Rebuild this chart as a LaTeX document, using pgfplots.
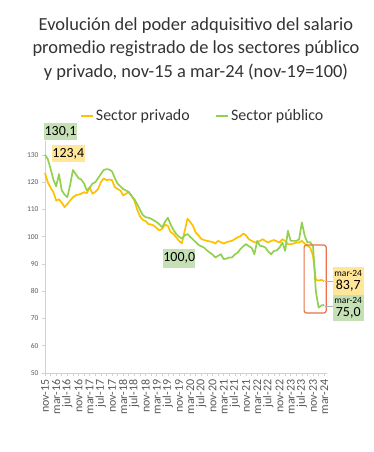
\documentclass[border=0pt]{standalone}
\usepackage{fontspec}
\setmainfont{Carlito}
\usepackage{pgfplots}
\usepackage{pgfplotstable}
\pgfplotsset{compat=1.18}
\definecolor{priv}{HTML}{FFC000}
\definecolor{pub}{HTML}{92D050}
\definecolor{privbox}{HTML}{FFE699}
\definecolor{pubbox}{HTML}{C5E0B4}
\definecolor{redbox}{HTML}{E8704A}
\definecolor{axgray}{HTML}{D0D0D0}
\definecolor{txtgray}{HTML}{595959}

\pgfplotstableread{
m priv pub
0 123.4 130.1
1 120.0 128.5
2 118.0 125.0
3 116.4 121.0
4 113.3 118.5
5 113.7 123.0
6 112.5 117.0
7 110.9 115.5
8 112.0 114.5
9 113.3 119.0
10 114.5 124.5
11 115.2 123.0
12 115.5 121.5
13 115.8 121.0
14 116.4 119.5
15 116.0 117.0
16 118.2 118.0
17 115.8 119.5
18 116.5 120.0
19 117.5 121.5
20 120.0 123.0
21 121.4 124.5
22 120.8 124.8
23 121.0 124.7
24 120.8 124.0
25 118.2 121.5
26 117.5 119.5
27 117.0 118.5
28 115.2 117.5
29 115.8 117.0
30 116.4 116.4
31 115.0 115.0
32 113.3 113.8
33 110.0 112.0
34 107.5 110.0
35 106.2 108.0
36 105.8 107.2
37 104.7 107.0
38 104.5 106.6
39 104.1 106.0
40 103.2 105.4
41 102.3 104.5
42 103.0 103.5
43 104.5 105.5
44 104.0 107.0
45 101.7 104.5
46 101.0 102.5
47 99.8 101.0
48 98.5 100.0
49 97.6 99.3
50 102.0 100.5
51 106.6 101.0
52 105.5 100.0
53 104.0 99.0
54 101.5 98.0
55 100.5 97.0
56 99.2 96.5
57 98.8 96.0
58 98.5 95.0
59 98.3 94.2
60 98.1 93.5
61 97.5 92.4
62 98.5 93.0
63 98.0 93.6
64 97.5 91.8
65 98.0 92.0
66 98.3 92.4
67 98.5 92.4
68 99.2 93.5
69 99.8 94.2
70 100.2 95.5
71 101.2 96.5
72 100.5 97.3
73 99.1 96.5
74 98.5 96.0
75 98.0 93.6
76 97.9 98.5
77 98.5 96.7
78 99.1 96.5
79 98.4 96.0
80 97.9 94.5
81 98.5 93.6
82 98.8 94.8
83 98.3 95.0
84 97.9 96.0
85 99.1 97.9
86 98.5 94.8
87 97.3 102.2
88 97.3 98.5
89 97.5 98.5
90 97.9 98.5
91 97.9 99.0
92 98.5 105.3
93 97.5 100.4
94 96.7 97.9
95 96.0 98.0
96 93.0 96.5
97 84.2 80.0
98 83.9 74.0
99 84.2 74.8
100 83.7 75.0
}\datatable

\begin{document}
\begin{tikzpicture}
\path[use as bounding box] (0,0) rectangle (374bp,452bp);
\node[align=center, font=\fontsize{18.5}{23.5}\selectfont, text=black!80] at (196bp,403bp)
  {Evolución del poder adquisitivo del salario\\promedio registrado de los sectores público\\y privado, nov-15 a mar-24 (nov-19=100)};
\begin{axis}[
  at={(45bp,79bp)}, anchor=south west,
  scale only axis, width=282bp, height=231.6bp,
  xmin=0, xmax=101, ymin=50, ymax=135,
  axis lines*=left,
  axis line style={draw=axgray, line width=0.8bp},
  xtick={0,4,...,100},
  xticklabels={nov-15,mar-16,jul-16,nov-16,mar-17,jul-17,nov-17,mar-18,jul-18,nov-18,mar-19,jul-19,nov-19,mar-20,jul-20,nov-20,mar-21,jul-21,nov-21,mar-22,jul-22,nov-22,mar-23,jul-23,nov-23,mar-24},
  minor x tick num=1,
  ytick={50,60,...,130},
  tick align=outside,
  major tick length=3bp, minor tick length=3bp,
  tick style={draw=axgray, line width=0.6bp},
  /pgf/number format/assume math mode=true,
  y tick label style={font=\fontsize{7.5}{8}\selectfont, text=txtgray},
  x tick label style={rotate=90, anchor=east, font=\fontsize{12}{12}\selectfont, text=txtgray},
  clip=false,
  legend columns=2,
  legend style={at={(0.56,1.11)}, anchor=center, draw=none, fill=none,
    font=\fontsize{16}{17}\selectfont, text=black!80,
    /tikz/every even column/.append style={column sep=24bp}},
  legend image code/.code={\draw[#1, line width=1.5bp] (-1bp,0) -- (11bp,0);},
]
\addplot[priv, line width=1.7bp, line join=round] table[x=m, y=priv] {\datatable};
\addlegendentry{Sector privado}
\addplot[pub, line width=1.7bp, line join=round] table[x=m, y=pub] {\datatable};
\addlegendentry{Sector público}

\draw[redbox, line width=1.2bp, rounded corners=2.5bp] (axis cs:92.8,97) rectangle (axis cs:100.7,72);
\draw[gray!60, line width=0.5bp] (axis cs:100.3,83.7) -- (axis cs:103.1,83.7);
\draw[gray!60, line width=0.5bp] (axis cs:100.3,74.6) -- (axis cs:103.1,74.6);

\node[fill=pubbox, font=\fontsize{14}{15}\selectfont, inner sep=0pt, minimum width=33bp, minimum height=17bp] at (axis cs:5.55,138.6) {130,1};
\node[fill=privbox, font=\fontsize{14}{15}\selectfont, inner sep=0pt, minimum width=33bp, minimum height=17bp] at (axis cs:8.36,130.6) {123,4};
\node[fill=pubbox, font=\fontsize{14}{15}\selectfont, inner sep=0pt, minimum width=32bp, minimum height=19bp] at (axis cs:48.1,92.1) {100,0};
\node[fill=privbox, align=center, inner sep=0pt, minimum width=31bp, minimum height=28bp] at (axis cs:108.6,83.8)
  {{\fontsize{9.5}{11}\selectfont mar-24}\\[1bp]{\fontsize{14}{14}\selectfont 83,7}};
\node[fill=pubbox, align=center, inner sep=0pt, minimum width=31bp, minimum height=26bp] at (axis cs:108.6,73.9)
  {{\fontsize{9.5}{11}\selectfont mar-24}\\[1bp]{\fontsize{14}{14}\selectfont 75,0}};
\end{axis}
\end{tikzpicture}
\end{document}
